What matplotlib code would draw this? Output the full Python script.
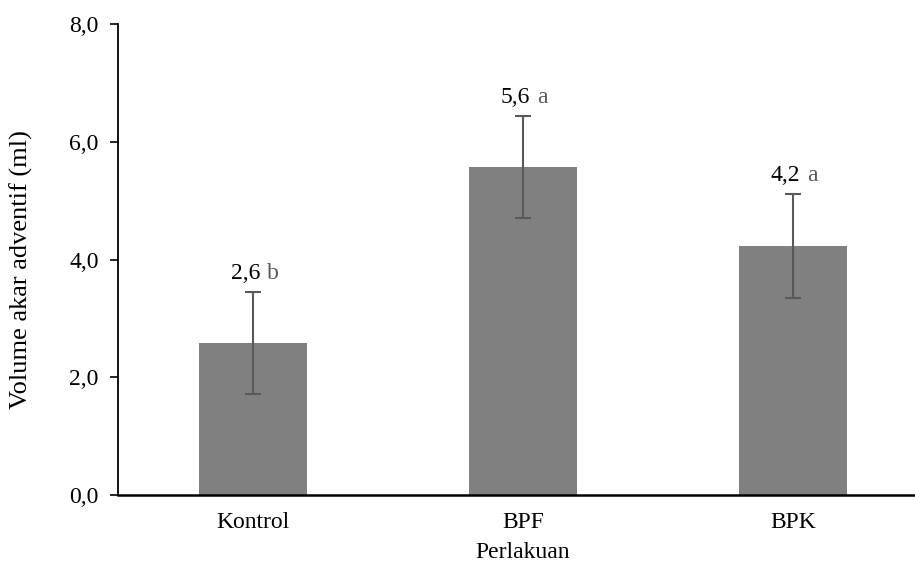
import matplotlib.pyplot as plt

plt.rcParams['font.family'] = ['Liberation Serif', 'DejaVu Serif']

categories = ['Kontrol', 'BPF', 'BPK']
means = [2.58, 5.57, 4.23]
errors = [0.87, 0.87, 0.88]
value_labels = ['2,6', '5,6', '4,2']
letters = ['b', 'a', 'a']
y_ticks = [0, 2, 4, 6, 8]
y_tick_labels = ['0,0', '2,0', '4,0', '6,0', '8,0']

fs = 17

fig = plt.figure(figsize=(9.15, 5.68), dpi=100)
# axis runs a little past the right edge, as in the original crop
ax = fig.add_axes([118 / 915, 73 / 568, 810 / 915, 471 / 568])

x = range(len(categories))
ax.bar(x, means, width=0.4, color='#808080', zorder=1)
ax.errorbar(x, means, yerr=errors, fmt='none', ecolor='#595959',
            elinewidth=1.5, capsize=6, capthick=1.5, zorder=2)

for i in x:
    top = means[i] + errors[i]
    ax.annotate(value_labels[i], (i, top), xytext=(5, 9.5),
                textcoords='offset points', ha='right', va='baseline',
                fontsize=fs, color='black')
    ax.annotate(letters[i], (i, top), xytext=(10, 9.5),
                textcoords='offset points', ha='left', va='baseline',
                fontsize=fs, color='#595959')

ax.set_xlim(-0.5, 2.5)
ax.set_ylim(0, 8)
ax.set_yticks(y_ticks)
ax.set_yticklabels(y_tick_labels, fontsize=fs)
ax.set_xticks(list(x))
ax.set_xticklabels(categories, fontsize=fs)
ax.tick_params(axis='x', length=0, pad=12)
ax.tick_params(axis='y', direction='out', length=6, width=1.2, pad=8)

for side in ['top', 'right']:
    ax.spines[side].set_visible(False)
ax.spines['left'].set_linewidth(1.3)
ax.spines['bottom'].set_linewidth(1.8)

ax.set_xlabel('Perlakuan', fontsize=fs, labelpad=7)
ax.set_ylabel('Volume akar adventif (ml)', fontsize=19)
ax.yaxis.set_label_coords(-0.105, 0.478)

fig.savefig('out.png', dpi=100)
